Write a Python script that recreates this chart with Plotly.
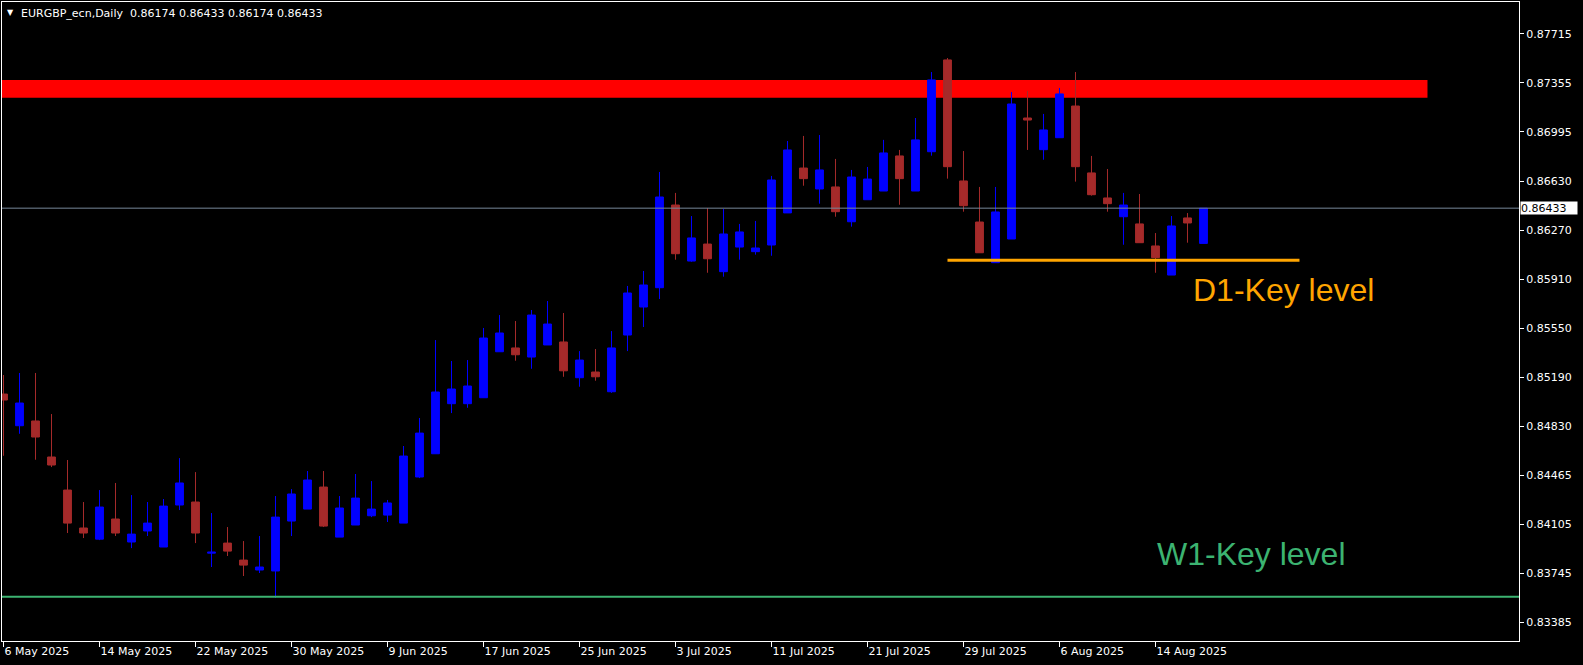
import numpy as np
import pandas as pd
import plotly.graph_objects as go

# ---- data ----
dates = pd.bdate_range("2025-05-06", "2025-08-19")

opens = [0.85066, 0.84833, 0.84868, 0.84603, 0.84360, 0.84081, 0.83999, 0.84147, 0.83978, 0.84059,
         0.83941, 0.84250, 0.84272, 0.83896, 0.83970, 0.83845, 0.83772, 0.83765, 0.84132, 0.84220,
         0.84382, 0.84014, 0.84103, 0.84171, 0.84176, 0.84117, 0.84456, 0.84627, 0.84995, 0.84995,
         0.85039, 0.85377, 0.85405, 0.85338, 0.85427, 0.85449, 0.85186, 0.85228, 0.85083, 0.85500,
         0.85706, 0.85848, 0.86456, 0.86044, 0.86169, 0.85966, 0.86147, 0.86113, 0.86162, 0.86398,
         0.86728, 0.86574, 0.86589, 0.86333, 0.86495, 0.86559, 0.86817, 0.86559, 0.86848, 0.87523,
         0.86633, 0.86331, 0.86032, 0.86206, 0.87096, 0.86863, 0.86951, 0.87184, 0.86692, 0.86508,
         0.86370, 0.86317, 0.86155, 0.85941, 0.86361, 0.86174]
highs = [0.85206, 0.85221, 0.85221, 0.84919, 0.84581, 0.84272, 0.84360, 0.84412, 0.84323, 0.84272,
         0.84294, 0.84595, 0.84492, 0.84191, 0.84088, 0.83985, 0.84022, 0.84316, 0.84367, 0.84500,
         0.84500, 0.84316, 0.84478, 0.84426, 0.84287, 0.84684, 0.84890, 0.85463, 0.85309, 0.85316,
         0.85552, 0.85647, 0.85603, 0.85684, 0.85750, 0.85662, 0.85382, 0.85397, 0.85529, 0.85861,
         0.85971, 0.86699, 0.86545, 0.86375, 0.86434, 0.86427, 0.86317, 0.86339, 0.86670, 0.86927,
         0.86964, 0.86971, 0.86795, 0.86714, 0.86736, 0.86935, 0.86861, 0.87096, 0.87434, 0.87537,
         0.86853, 0.86589, 0.86589, 0.87287, 0.87295, 0.87126, 0.87317, 0.87434, 0.86817, 0.86721,
         0.86545, 0.86537, 0.86250, 0.86375, 0.86397, 0.86433]
lows = [0.84612, 0.84774, 0.84583, 0.84529, 0.84044, 0.84007, 0.83992, 0.84022, 0.83933, 0.84022,
        0.83941, 0.84213, 0.83970, 0.83794, 0.83875, 0.83728, 0.83750, 0.83566, 0.84022, 0.84220,
        0.84088, 0.84014, 0.84103, 0.84161, 0.84125, 0.84117, 0.84448, 0.84627, 0.84926, 0.84965,
        0.85039, 0.85377, 0.85311, 0.85252, 0.85427, 0.85193, 0.85120, 0.85164, 0.85075, 0.85382,
        0.85559, 0.85765, 0.86054, 0.86039, 0.85958, 0.85929, 0.86054, 0.86091, 0.86083, 0.86398,
        0.86598, 0.86466, 0.86370, 0.86297, 0.86495, 0.86559, 0.86458, 0.86559, 0.86819, 0.86650,
        0.86407, 0.86105, 0.86032, 0.86206, 0.86861, 0.86789, 0.86951, 0.86628, 0.86525, 0.86407,
        0.86164, 0.86179, 0.85958, 0.85941, 0.86179, 0.86174]
closes = [0.85022, 0.85000, 0.84750, 0.84544, 0.84117, 0.84044, 0.84235, 0.84044, 0.84036, 0.84117,
          0.84242, 0.84412, 0.84044, 0.83903, 0.83911, 0.83808, 0.83794, 0.84161, 0.84331, 0.84434,
          0.84095, 0.84228, 0.84301, 0.84220, 0.84265, 0.84610, 0.84779, 0.85081, 0.85103, 0.85125,
          0.85478, 0.85515, 0.85355, 0.85647, 0.85581, 0.85237, 0.85316, 0.85193, 0.85405, 0.85809,
          0.85868, 0.86515, 0.86098, 0.86214, 0.86061, 0.86243, 0.86258, 0.86140, 0.86640, 0.86861,
          0.86650, 0.86714, 0.86407, 0.86662, 0.86647, 0.86839, 0.86650, 0.86935, 0.87376, 0.86738,
          0.86451, 0.86105, 0.86405, 0.87199, 0.87081, 0.87008, 0.87273, 0.86738, 0.86532, 0.86466,
          0.86456, 0.86179, 0.86069, 0.86302, 0.86324, 0.86433]

y_tick_labels = ["0.87715", "0.87355", "0.86995", "0.86630", "0.86270", "0.85910", "0.85550",
                 "0.85190", "0.84830", "0.84465", "0.84105", "0.83745", "0.83385"]

resistance_zone = (0.87245, 0.87376)
zone_end_idx = 89
d1_level = 0.86049
d1_span = (59, 81)
w1_level = 0.83575
last_price = 0.86433
title_text = "EURGBP_ecn,Daily\u00a0\u00a00.86174 0.86433 0.86174 0.86433"

# ---- figure ----
xpos = np.arange(len(dates))
tick_idx = list(range(0, len(dates), 6))
tick_txt = [f"{dates[i].day} {dates[i].strftime('%b %Y')}" for i in tick_idx]
y_tickvals = np.linspace(float(y_tick_labels[0]), float(y_tick_labels[-1]), len(y_tick_labels))

BULL = "#0000FF"
BEAR = "#A52A2A"

fig = go.Figure()
fig.add_trace(go.Candlestick(
    x=xpos, open=opens, high=highs, low=lows, close=closes,
    increasing=dict(line=dict(color=BULL, width=1), fillcolor=BULL),
    decreasing=dict(line=dict(color=BEAR, width=1), fillcolor=BEAR),
    whiskerwidth=0, showlegend=False, hoverinfo="skip",
))

shapes = [
    dict(type="rect", xref="x", yref="y", x0=-2, x1=zone_end_idx,
         y0=resistance_zone[0], y1=resistance_zone[1],
         fillcolor="#FF0000", line=dict(width=0), layer="below"),
    dict(type="line", xref="paper", yref="y", x0=0, x1=1, y0=last_price, y1=last_price,
         line=dict(color="#778899", width=1)),
    dict(type="line", xref="x", yref="y", x0=d1_span[0], x1=d1_span[1], y0=d1_level, y1=d1_level,
         line=dict(color="#FFA500", width=3)),
    dict(type="line", xref="paper", yref="y", x0=0, x1=1, y0=w1_level, y1=w1_level,
         line=dict(color="#3CB371", width=2)),
]

annotations = [
    dict(text="D1-Key level", xref="x", yref="y", x=80.0, y=0.85831, showarrow=False,
         font=dict(family="Liberation Sans", size=32, color="#FFA500")),
    dict(text="W1-Key level", xref="x", yref="y", x=78.0, y=0.83889, showarrow=False,
         font=dict(family="Liberation Sans", size=32, color="#3CB371")),
    dict(text=str(last_price), xref="paper", yref="y", x=1, y=last_price, xanchor="left",
         xshift=1, showarrow=False, bgcolor="#FFFFFF", borderpad=0, width=56, height=12,
         align="left", font=dict(family="DejaVu Sans", size=11, color="#000000")),
    dict(text=title_text, xref="paper", yref="paper", x=0, y=1, xanchor="left", yanchor="top",
         xshift=17, yshift=-3, showarrow=False,
         font=dict(family="DejaVu Sans", size=11, color="#FFFFFF")),
    dict(text="\u25BC", xref="paper", yref="paper", x=0, y=1, xanchor="left", yanchor="top",
         xshift=3, yshift=-4, showarrow=False,
         font=dict(family="DejaVu Sans", size=8, color="#FFFFFF")),
]

fig.update_layout(
    width=1583, height=665, autosize=False,
    paper_bgcolor="#000000", plot_bgcolor="#000000",
    margin=dict(l=2, r=64, t=2, b=24),
    shapes=shapes, annotations=annotations,
    showlegend=False,
    xaxis=dict(
        range=[-0.094, 94.72], showgrid=False, zeroline=False,
        showline=True, mirror=True, linecolor="#FFFFFF", linewidth=1,
        tickmode="array", tickvals=tick_idx, ticktext=tick_txt,
        ticks="outside", ticklen=5, tickcolor="#FFFFFF",
        ticklabelposition="outside right",
        tickfont=dict(family="DejaVu Sans", size=11, color="#FFFFFF"),
        rangeslider=dict(visible=False), automargin=False,
    ),
    yaxis=dict(
        range=[0.83250, 0.87949], side="right", showgrid=False, zeroline=False,
        showline=True, mirror=True, linecolor="#FFFFFF", linewidth=1,
        tickmode="array", tickvals=y_tickvals, ticktext=y_tick_labels,
        ticks="outside", ticklen=4, tickcolor="#FFFFFF",
        tickfont=dict(family="DejaVu Sans", size=11, color="#FFFFFF"),
        automargin=False,
    ),
)

fig.write_html(
    "out.html",
    config={"displayModeBar": False},
    post_script="document.body.style.margin='0px';document.body.style.background='#000';",
)
